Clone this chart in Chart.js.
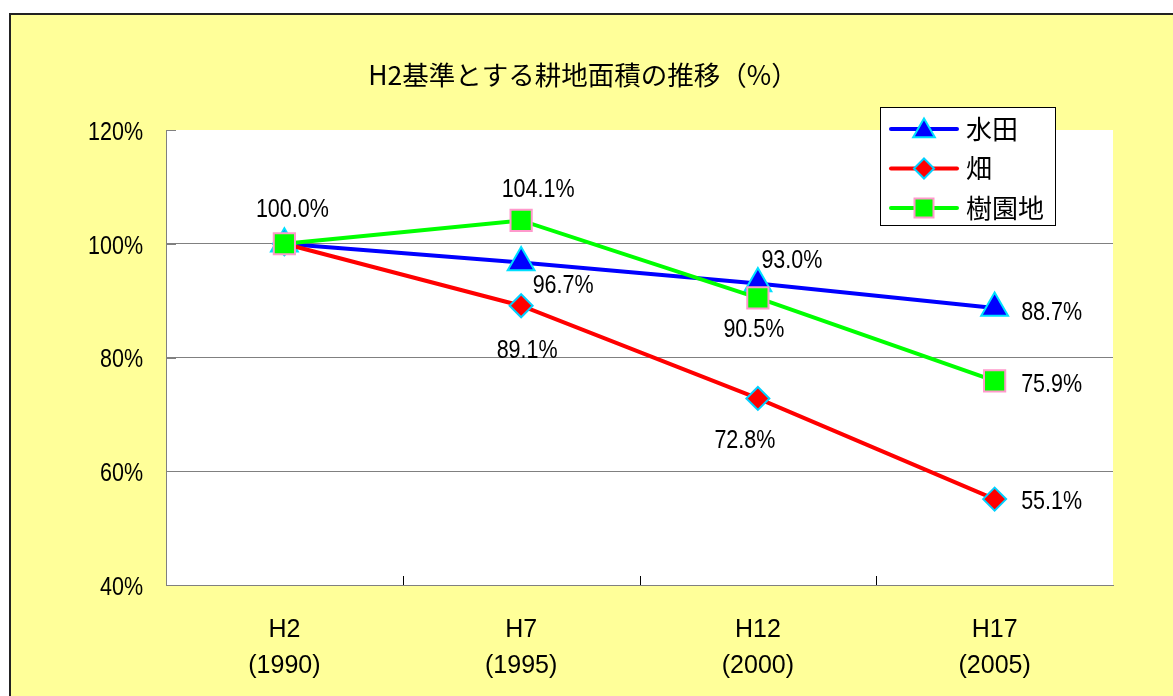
<!DOCTYPE html>
<html><head><meta charset="utf-8">
<script src="https://cdn.jsdelivr.net/npm/chart.js@4/dist/chart.umd.min.js"></script>
<style>html,body{margin:0;padding:0;background:#fff;overflow:hidden}#wrap{position:relative;width:1173px;height:696px}</style>
</head><body><div id="wrap"><canvas id="c" width="1173" height="696"></canvas></div>
<script>
const categories = ['H2', 'H7', 'H12', 'H17'];
const years = ['(1990)', '(1995)', '(2000)', '(2005)'];
const seriesNames = ['水田', '畑', '樹園地'];
const paddy = [100.0, 96.7, 93.0, 88.7];
const field = [100.0, 89.1, 72.8, 55.1];
const orchard = [100.0, 104.1, 90.5, 75.9];
const yTicks = [40, 60, 80, 100, 120];
const titleText = 'H2基準とする耕地面積の推移（%）';

const NUM_FONT = "'Liberation Sans',Arial,sans-serif";
const LAT_FONT = "'Liberation Sans',Arial,sans-serif";
const JP_FONT = "'Noto Sans CJK JP','Noto Sans',sans-serif";
const CONDENSE = 0.86;

// label offsets (px) relative to each point, per dataset; null = no label
const labelPlacement = [
  [null, [42, 24], [34, -22], [57, 5]],
  [null, [6, 45], [-13, 43], [57, 3]],
  [[8, -34], [17, -30], [-4, 32], [57, 4]]
];

function condensedText(ctx, text, x, y, align) {
  ctx.save();
  ctx.translate(x, y);
  ctx.scale(CONDENSE, 1);
  ctx.textAlign = align;
  ctx.fillText(text, 0, 0);
  ctx.restore();
}

function drawMarker(ctx, style, x, y, r, fill, stroke, bw) {
  ctx.beginPath();
  if (style === 'triangle') {
    ctx.moveTo(x, y - r);
    ctx.lineTo(x + r * Math.sin(2 * Math.PI / 3), y + r * 0.5);
    ctx.lineTo(x - r * Math.sin(2 * Math.PI / 3), y + r * 0.5);
  } else if (style === 'rectRot') {
    ctx.moveTo(x, y - r); ctx.lineTo(x + r, y); ctx.lineTo(x, y + r); ctx.lineTo(x - r, y);
  } else {
    ctx.rect(x - r, y - r, 2 * r, 2 * r);
  }
  ctx.closePath();
  ctx.fillStyle = fill; ctx.fill();
  ctx.lineWidth = bw; ctx.strokeStyle = stroke; ctx.stroke();
}

const bgPlugin = {
  id: 'bg',
  beforeDraw(chart) {
    const { ctx, width, height, chartArea: a } = chart;
    ctx.save();
    ctx.fillStyle = '#fff'; ctx.fillRect(0, 0, width, height);
    ctx.fillStyle = '#FFFF99'; ctx.fillRect(10, 14, width, height);
    ctx.strokeStyle = '#222'; ctx.lineWidth = 2; ctx.strokeRect(10, 14, width + 10, height + 10);
    ctx.fillStyle = '#fff'; ctx.fillRect(a.left, a.top, a.right - a.left, a.bottom - a.top);
    // title
    ctx.fillStyle = '#000'; ctx.font = '26.5px ' + JP_FONT;
    ctx.textAlign = 'center'; ctx.textBaseline = 'middle';
    ctx.fillText(titleText, 583, 75);
    ctx.restore();
  }
};

const tickPlugin = {
  id: 'tickmarks',
  beforeDatasetsDraw(chart) {
    const { ctx, chartArea: a, scales: { x, y } } = chart;
    ctx.save();
    ctx.strokeStyle = '#808080'; ctx.lineWidth = 1;
    ctx.beginPath();
    y.ticks.forEach(t => { const py = Math.round(y.getPixelForValue(t.value)) + 0.5; ctx.moveTo(a.left, py); ctx.lineTo(a.left + 10, py); });
    ctx.stroke();
    // y tick labels (condensed)
    ctx.fillStyle = '#000'; ctx.font = '25px ' + NUM_FONT; ctx.textBaseline = 'middle';
    y.ticks.forEach(t => { condensedText(ctx, t.value + '%', a.left - 23, y.getPixelForValue(t.value) + 3, 'right'); });
    ctx.strokeStyle = '#000';
    ctx.beginPath();
    for (let i = 0; i < categories.length - 1; i++) {
      const px = Math.round((x.getPixelForValue(i) + x.getPixelForValue(i + 1)) / 2) + 0.5;
      ctx.moveTo(px, a.bottom); ctx.lineTo(px, a.bottom - 9);
    }
    ctx.stroke();
    ctx.restore();
  }
};

const labelPlugin = {
  id: 'valueLabels',
  afterDatasetsDraw(chart) {
    const ctx = chart.ctx;
    ctx.save();
    ctx.fillStyle = '#000'; ctx.font = '25px ' + NUM_FONT;
    ctx.textBaseline = 'middle';
    chart.data.datasets.forEach((ds, di) => {
      const meta = chart.getDatasetMeta(di);
      meta.data.forEach((pt, i) => {
        const off = labelPlacement[di][i];
        if (!off) return;
        condensedText(ctx, ds.data[i].toFixed(1) + '%', pt.x + off[0], pt.y + off[1], 'center');
      });
    });
    ctx.restore();
  }
};

const legendPlugin = {
  id: 'customLegend',
  afterDraw(chart) {
    const ctx = chart.ctx;
    ctx.save();
    const bx = 880, by = 107, bw = 175, bh = 118;
    ctx.fillStyle = '#fff'; ctx.fillRect(bx, by, bw, bh);
    ctx.strokeStyle = '#000'; ctx.lineWidth = 1; ctx.strokeRect(bx + 0.5, by + 0.5, bw, bh);
    const sizes = { triangle: 12.5, rectRot: 10, rect: 9.5 };
    chart.data.datasets.forEach((ds, i) => {
      const cy = by + 22 + i * 39.5;
      ctx.strokeStyle = ds.borderColor; ctx.lineWidth = 4; ctx.lineCap = 'round';
      ctx.beginPath(); ctx.moveTo(891, cy); ctx.lineTo(957, cy); ctx.stroke();
      drawMarker(ctx, ds.pointStyle, 924, cy + (ds.pointStyle === 'triangle' ? 2 : 0), sizes[ds.pointStyle], ds.pointBackgroundColor, ds.pointBorderColor, 2);
      ctx.fillStyle = '#000'; ctx.font = '26px ' + JP_FONT;
      ctx.textAlign = 'left'; ctx.textBaseline = 'middle';
      ctx.fillText(ds.label, 966, cy);
    });
    ctx.restore();
  }
};

new Chart(document.getElementById('c'), {
  type: 'line',
  data: {
    labels: categories.map((c, i) => [c, years[i]]),
    datasets: [
      { label: seriesNames[0], data: paddy, borderColor: '#0000FF', backgroundColor: '#0000FF', borderWidth: 4,
        pointStyle: 'triangle', pointRadius: 15.5, pointBackgroundColor: '#0000FF', pointBorderColor: '#00E0FF', pointBorderWidth: 2, order: 3 },
      { label: seriesNames[1], data: field, borderColor: '#FF0000', backgroundColor: '#FF0000', borderWidth: 4,
        pointStyle: 'rectRot', pointRadius: 11.5, pointBackgroundColor: '#FF0000', pointBorderColor: '#00D0FF', pointBorderWidth: 2, order: 2 },
      { label: seriesNames[2], data: orchard, borderColor: '#00FF00', backgroundColor: '#00FF00', borderWidth: 4,
        pointStyle: 'rect', pointRadius: 15, pointBackgroundColor: '#00FF00', pointBorderColor: '#FF99CC', pointBorderWidth: 2, order: 1 }
    ]
  },
  options: {
    responsive: false, animation: false, devicePixelRatio: 1, events: [],
    layout: { padding: { top: 130, right: 60, left: 0, bottom: 0 } },
    plugins: { legend: { display: false }, title: { display: false }, tooltip: { enabled: false } },
    scales: {
      x: {
        offset: true,
        grid: { display: false, offset: true },
        border: { display: true, color: '#808080', width: 1 },
        ticks: { color: '#000', padding: 19, font: { family: LAT_FONT, size: 25, lineHeight: 1.44 }, maxRotation: 0, autoSkip: false },
        afterFit(s) { s.height = 111; }
      },
      y: {
        min: 40, max: 120,
        afterBuildTicks(s) { s.ticks = yTicks.map(v => ({ value: v })); },
        grid: { drawTicks: false, color: ctx => (ctx.tick && (ctx.tick.value === 120 || ctx.tick.value === 40)) ? 'rgba(0,0,0,0)' : '#808080', lineWidth: 1 },
        border: { display: true, color: '#808080', width: 1 },
        ticks: { display: false },
        afterFit(s) { s.width = 166; }
      }
    }
  },
  plugins: [bgPlugin, tickPlugin, labelPlugin, legendPlugin]
});
</script></body></html>
